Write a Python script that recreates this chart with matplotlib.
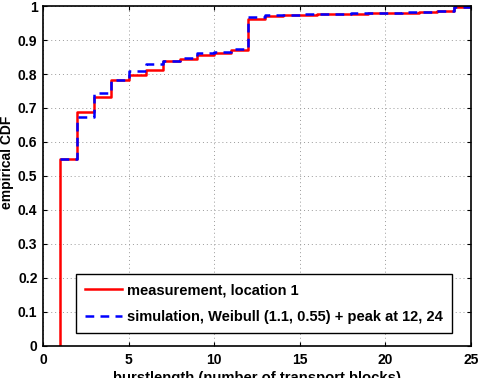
import matplotlib
matplotlib.use("Agg")
import matplotlib.pyplot as plt

plt.rcParams['font.family'] = ['Liberation Sans', 'DejaVu Sans']
plt.rcParams['font.weight'] = 'bold'

# burst lengths where the CDF steps
burst_meas = [1, 1, 2, 3, 4, 5, 6, 7, 8, 9, 10, 11, 12, 13, 14, 15, 16, 17,
              18, 19, 20, 21, 22, 23, 24, 25]
cdf_meas = [0, 0.549, 0.688, 0.732, 0.783, 0.798, 0.811, 0.839, 0.845, 0.855,
            0.862, 0.871, 0.963, 0.971, 0.973, 0.975, 0.976, 0.977, 0.978,
            0.979, 0.980, 0.981, 0.982, 0.984, 0.998, 0.998]

burst_sim = [1, 2, 3, 4, 5, 6, 7, 8, 9, 10, 11, 12, 13, 14, 15, 16, 17, 18,
             19, 20, 21, 22, 23, 24, 25]
cdf_sim = [0.549, 0.674, 0.743, 0.782, 0.810, 0.829, 0.839, 0.848, 0.861,
           0.866, 0.875, 0.969, 0.973, 0.975, 0.976, 0.977, 0.978, 0.979,
           0.980, 0.981, 0.982, 0.983, 0.985, 0.998, 0.998]

fig = plt.figure(figsize=(4.78, 3.78), dpi=100)
ax = fig.add_axes([0.09, 0.085, 0.895, 0.899])

ax.step(burst_meas, cdf_meas, where='post', color='#ff0000', lw=1.8,
        label='measurement, location 1')
ax.step(burst_sim, cdf_sim, where='post', color='#0000ff', lw=1.8,
        linestyle=(0, (3.5, 2.5)),
        label='simulation, Weibull (1.1, 0.55) + peak at 12, 24')

ax.set_xlim(0, 25)
ax.set_ylim(0, 1)
ax.set_xticks([0, 5, 10, 15, 20, 25])
ax.set_yticks([i / 10 for i in range(11)])
ax.set_yticklabels(['0'] + [f'{i / 10:.1f}' for i in range(1, 10)] + ['1'])
ax.tick_params(direction='in', top=True, right=True, labelsize=10,
               length=3, width=0.8)
ax.tick_params(axis='x', pad=5)
ax.tick_params(axis='y', pad=4)
for lab in ax.get_xticklabels() + ax.get_yticklabels():
    lab.set_fontweight('bold')
for s in ax.spines.values():
    s.set_linewidth(1.2)
ax.grid(True, linestyle=(0, (1, 3)), color='#999999', lw=0.7)

ax.set_xlabel('burstlength (number of transport blocks)', fontsize=10.7,
              fontweight='bold', labelpad=3)
ax.set_ylabel('empirical CDF', fontsize=10, fontweight='bold')
ax.yaxis.set_label_coords(-0.068, 0.54)

leg = ax.legend(loc='lower left', bbox_to_anchor=(0.06, 0.016),
                fontsize=10.5, frameon=True, fancybox=False, framealpha=1,
                edgecolor='black', handlelength=2.5, borderpad=0.65,
                labelspacing=0.85, handletextpad=0.35)
leg.get_frame().set_linewidth(1.0)
for t in leg.get_texts():
    t.set_fontweight('bold')

fig.savefig('out.png', dpi=100)
